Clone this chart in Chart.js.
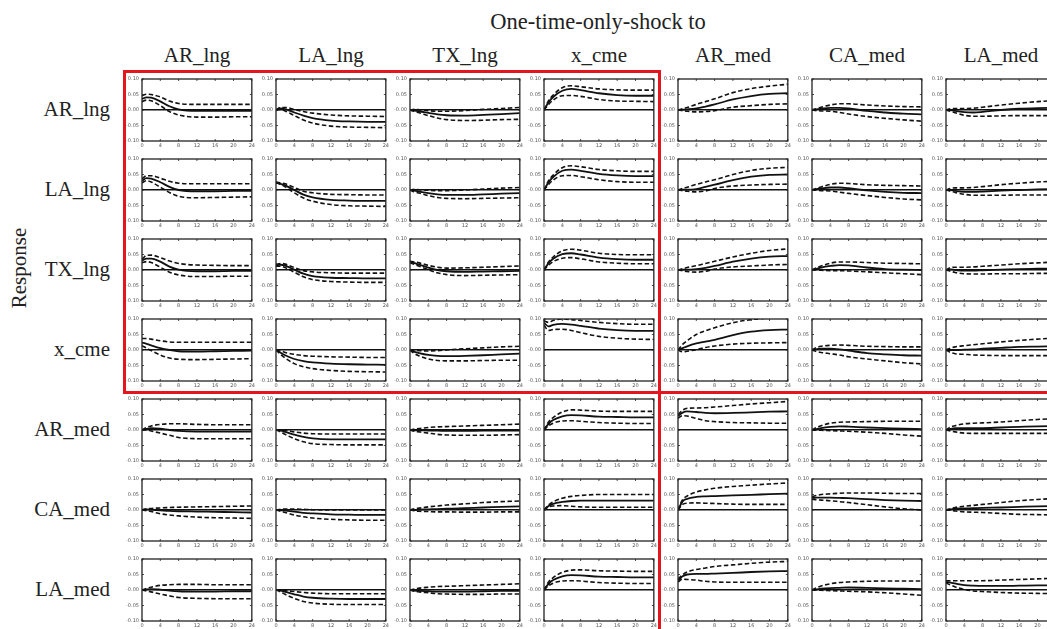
<!DOCTYPE html>
<html>
<head>
<meta charset="utf-8">
<script src="https://cdn.jsdelivr.net/npm/chart.js@4.4.0/dist/chart.umd.min.js"></script>
<style>
html, body { margin: 0; padding: 0; overflow: hidden; background: #fff; }
#page { position: relative; width: 1047px; height: 629px; overflow: hidden; font-family: "Liberation Serif", "Times New Roman", Times, "DejaVu Serif", serif; color: #222; }
.lbl { position: absolute; font-size: 21px; white-space: nowrap; line-height: 1; }
canvas { position: absolute; }
.red { position: absolute; background: #e3161d; }
</style>
</head>
<body>
<div id="page"></div>
<script>
// values are in units of 0.01
const shocks = ["AR_lng", "LA_lng", "TX_lng", "x_cme", "AR_med", "CA_med", "LA_med"];
const responses = ["AR_lng", "LA_lng", "TX_lng", "x_cme", "AR_med", "CA_med", "LA_med"];
const steps = [0, 1, 2, 4, 6, 8, 12, 16, 20, 24];
const xTicks = [0, 4, 8, 12, 16, 20, 24];
const yTicks = [-10, -5, 0, 5, 10];

const arLngMid = [
  [3.6,4.1,4.0,2.8,1.2,0.2,-0.3,-0.3,-0.3,-0.3],
  [0,0.5,0.3,-0.8,-1.8,-2.6,-3.4,-3.7,-3.8,-3.8],
  [0,-0.2,-0.4,-0.9,-1.4,-1.7,-1.8,-1.6,-1.3,-1.0],
  [0,2.5,4.2,6.2,6.8,6.4,5.4,4.8,4.6,4.6],
  [0,0.1,0.2,0.5,1.1,1.8,3.4,4.5,5.2,5.4],
  [0,0.2,0.4,0.7,0.7,0.5,-0.3,-0.8,-1.2,-1.4],
  [0,0.0,-0.3,-0.7,-0.8,-0.6,0.0,0.4,0.6,0.7]
];
const arLngLo = [
  [2.7,3.2,3.0,1.4,-0.5,-1.6,-2.3,-2.3,-2.2,-2.2],
  [0,0.2,-0.3,-1.8,-3.2,-4.2,-5.2,-5.5,-5.6,-5.7],
  [0,-0.5,-0.9,-1.8,-2.6,-3.1,-3.4,-3.3,-3.1,-3.0],
  [0,1.8,3.2,4.6,4.7,4.4,3.4,2.9,2.8,2.7],
  [0,-0.2,-0.4,-0.6,-0.5,-0.2,0.9,1.4,1.8,2.0],
  [0,-0.2,-0.3,-0.4,-0.8,-1.3,-2.1,-2.7,-3.2,-3.6],
  [0,-0.4,-0.9,-1.7,-2.0,-2.0,-1.9,-1.8,-1.8,-1.8]
];
const arLngHi = [
  [4.6,5.1,5.0,4.2,2.9,2.1,1.8,1.8,1.8,1.8],
  [0,0.8,0.8,0.2,-0.5,-1.0,-1.6,-1.9,-2.0,-2.1],
  [0,0.2,0.1,-0.2,-0.4,-0.4,-0.2,0.2,0.5,0.8],
  [0,3.0,4.8,7.2,7.8,7.5,6.8,6.5,6.4,6.4],
  [0,0.4,0.8,1.8,2.7,3.6,5.6,6.9,7.7,8.3],
  [0,0.4,0.9,1.6,2.0,2.0,1.6,1.3,1.1,1.0],
  [0,0.4,0.5,0.5,0.6,0.9,1.6,2.2,2.7,3.0]
];

const laLngMid = [
  [3.0,3.8,3.7,2.5,1.0,0.0,-0.4,-0.4,-0.3,-0.3],
  [2.5,2.0,1.5,0.0,-1.5,-2.4,-3.2,-3.4,-3.5,-3.5],
  [0,-0.2,-0.5,-1.0,-1.4,-1.6,-1.6,-1.4,-1.2,-1.0],
  [0,2.5,4.2,6.2,6.6,6.2,5.2,4.7,4.5,4.5],
  [0,0.1,0.1,0.3,1.0,1.7,3.2,4.3,4.9,5.0],
  [0,0.3,0.5,0.8,0.8,0.6,-0.1,-0.6,-0.9,-1.0],
  [0,0.0,-0.3,-0.6,-0.6,-0.5,-0.2,0.0,0.2,0.3]
];
const laLngLo = [
  [2.3,3.0,2.6,0.9,-0.8,-2.0,-2.5,-2.4,-2.3,-2.2],
  [2.3,1.8,1.0,-0.9,-2.6,-3.6,-4.7,-5.1,-5.2,-5.3],
  [0,-0.6,-1.0,-1.8,-2.4,-2.7,-2.8,-2.7,-2.6,-2.5],
  [0,1.8,3.2,4.6,4.7,4.3,3.3,2.7,2.5,2.5],
  [0,-0.2,-0.4,-0.6,-0.3,0.5,1.3,1.6,1.8,1.9],
  [0,-0.1,-0.2,-0.3,-0.7,-1.1,-1.8,-2.4,-2.9,-3.2],
  [0,-0.4,-0.8,-1.4,-1.7,-1.7,-1.7,-1.6,-1.6,-1.6]
];
const laLngHi = [
  [3.6,4.6,4.6,3.8,2.8,2.2,2.0,2.0,2.0,2.0],
  [2.6,2.3,2.0,0.8,-0.4,-0.9,-1.4,-1.5,-1.6,-1.6],
  [0,0.2,0.1,-0.1,-0.2,-0.2,0.0,0.3,0.6,0.8],
  [0,3.0,4.8,7.2,7.8,7.5,6.6,6.2,6.0,6.0],
  [0,0.5,0.9,1.8,2.6,3.3,5.0,6.3,7.0,7.3],
  [0,0.5,1.0,1.8,2.2,2.1,1.7,1.5,1.4,1.3],
  [0,0.5,0.7,0.7,0.8,1.1,1.7,2.2,2.6,2.8]
];

const txLngMid = [
  [3.0,3.7,3.7,2.7,1.1,0.1,-0.4,-0.4,-0.3,-0.3],
  [1.5,1.7,1.4,0.1,-1.2,-2.0,-2.5,-2.6,-2.7,-2.7],
  [2.6,2.2,1.7,0.8,0.0,-0.4,-0.6,-0.5,-0.4,-0.3],
  [0,2.2,3.6,5.1,5.4,5.0,4.0,3.5,3.3,3.3],
  [0,0.1,0.1,0.3,0.7,1.3,2.7,3.7,4.3,4.5],
  [0,0.4,0.8,1.3,1.6,1.5,0.8,0.3,0.1,0.0],
  [0,0.2,0.0,-0.2,-0.2,-0.1,0.1,0.3,0.4,0.5]
];
const txLngLo = [
  [2.3,2.7,2.4,0.9,-0.7,-1.6,-2.1,-2.1,-2.0,-2.0],
  [1.2,1.2,0.8,-0.7,-2.2,-3.1,-3.7,-3.9,-4.0,-4.0],
  [2.4,1.8,1.2,0.1,-0.9,-1.5,-1.8,-1.7,-1.6,-1.5],
  [0,1.6,2.7,3.8,4.0,3.6,2.6,2.2,2.0,2.0],
  [0,-0.2,-0.5,-0.7,-0.4,0.3,1.0,1.3,1.6,1.8],
  [0,0.0,-0.1,-0.2,-0.2,-0.3,-0.6,-0.9,-1.2,-1.5],
  [0,-0.4,-0.8,-1.2,-1.3,-1.3,-1.2,-1.2,-1.1,-1.1]
];
const txLngHi = [
  [3.5,4.7,4.8,4.0,2.9,2.1,1.6,1.5,1.4,1.4],
  [1.8,2.1,1.9,0.8,-0.2,-0.6,-0.9,-1.0,-1.0,-1.0],
  [2.8,2.6,2.3,1.5,0.9,0.6,0.7,0.9,1.1,1.3],
  [0,2.6,4.2,6.2,6.7,6.4,5.4,5.0,4.9,4.9],
  [0,0.4,0.8,1.4,2.1,2.8,4.2,5.4,6.3,6.8],
  [0,0.7,1.3,2.2,2.6,2.6,2.4,2.2,2.1,2.0],
  [0,0.8,0.9,0.9,1.0,1.2,1.6,2.0,2.3,2.6]
];

const xCmeMid = [
  [2.4,2.0,1.5,0.6,0.0,-0.4,-0.5,-0.4,-0.3,-0.2],
  [0,-0.9,-1.7,-2.9,-3.6,-4.0,-4.4,-4.6,-4.7,-4.8],
  [0,-0.6,-1.0,-1.6,-1.9,-2.0,-1.9,-1.7,-1.4,-1.2],
  [8.8,7.6,8.1,8.4,8.2,7.8,6.9,6.4,6.2,6.2],
  [0,0.6,1.2,2.1,2.7,3.3,4.8,5.9,6.4,6.6],
  [0,0.3,0.4,0.4,0.2,-0.2,-1.0,-1.4,-1.7,-1.8],
  [0,0.0,0.0,0.1,0.2,0.4,0.7,1.0,1.1,1.2]
];
const xCmeLo = [
  [1.4,0.6,-0.2,-1.6,-2.6,-3.0,-3.1,-3.0,-2.9,-2.8],
  [0,-1.4,-2.6,-4.4,-5.4,-6.0,-6.6,-6.9,-7.0,-7.1],
  [0,-1.2,-1.9,-2.9,-3.4,-3.5,-3.5,-3.4,-3.3,-3.3],
  [8.0,6.3,6.6,6.7,6.3,5.6,4.4,3.8,3.5,3.4],
  [0,-0.6,-0.4,0.1,0.8,1.3,1.9,2.2,2.3,2.4],
  [0,-0.5,-0.8,-1.2,-1.6,-2.2,-2.9,-3.5,-4.1,-4.5],
  [0,-0.8,-1.2,-1.4,-1.6,-1.7,-1.8,-1.8,-1.8,-1.8]
];
const xCmeHi = [
  [3.7,3.7,3.5,3.0,2.6,2.5,2.5,2.5,2.5,2.5],
  [0,-0.4,-0.8,-1.4,-1.8,-2.0,-2.2,-2.3,-2.4,-2.4],
  [0,-0.1,-0.2,-0.3,-0.2,0.0,0.4,0.7,1.0,1.2],
  [9.4,8.9,9.5,10.0,9.8,9.5,8.9,8.5,8.3,8.3],
  [0,1.8,3.0,5.0,6.2,7.2,8.8,9.8,10.3,10.5],
  [0,0.8,1.2,1.5,1.6,1.5,1.2,1.1,1.0,1.0],
  [0,0.6,1.0,1.4,1.7,2.0,2.6,3.1,3.5,3.9]
];

const arMedMid = [
  [0,0.4,0.6,0.4,0.0,-0.3,-0.5,-0.5,-0.5,-0.5],
  [0,-0.2,-0.6,-1.5,-2.2,-2.7,-3.0,-3.0,-3.0,-3.0],
  [0,-0.1,-0.1,-0.2,-0.2,-0.3,-0.3,-0.2,-0.2,-0.2],
  [0,2.0,3.2,4.4,4.8,4.7,4.3,4.2,4.1,4.1],
  [4.5,5.6,6.0,5.8,5.5,5.4,5.5,5.7,5.9,6.0],
  [0,0.3,0.6,1.0,1.2,1.1,0.8,0.6,0.4,0.3],
  [0,0.4,0.6,0.6,0.6,0.6,0.8,1.0,1.2,1.3]
];
const arMedLo = [
  [0,0.0,-0.3,-1.0,-1.7,-2.4,-2.8,-2.8,-2.8,-2.8],
  [0,-0.6,-1.4,-2.8,-3.8,-4.4,-4.7,-4.8,-4.8,-4.8],
  [0,-0.4,-0.6,-1.0,-1.4,-1.6,-1.7,-1.7,-1.6,-1.5],
  [0,1.4,2.2,2.9,3.0,2.8,2.4,2.2,2.1,2.1],
  [3.8,4.6,4.5,3.7,3.0,2.7,2.4,2.3,2.2,2.2],
  [0,-0.1,-0.1,-0.2,-0.3,-0.4,-0.7,-1.1,-1.6,-2.0],
  [0,-0.3,-0.6,-1.0,-1.1,-1.1,-1.1,-1.1,-1.1,-1.1]
];
const arMedHi = [
  [0,0.8,1.3,1.8,2.0,2.0,1.8,1.7,1.7,1.7],
  [0,0.0,-0.1,-0.6,-1.0,-1.2,-1.3,-1.3,-1.3,-1.3],
  [0,0.3,0.5,0.8,1.0,1.1,1.3,1.5,1.7,1.9],
  [0,2.6,4.0,5.8,6.5,6.4,6.1,6.0,6.0,6.0],
  [5.0,6.4,7.0,7.1,7.2,7.4,7.9,8.4,8.8,9.2],
  [0,0.8,1.4,2.2,2.5,2.6,2.7,2.8,2.8,2.8],
  [0,1.0,1.4,2.0,2.2,2.3,2.6,3.0,3.4,3.7]
];

const caMedMid = [
  [0,0.2,0.1,-0.1,-0.3,-0.4,-0.5,-0.6,-0.7,-0.8],
  [0,-0.1,-0.2,-0.5,-0.9,-1.1,-1.4,-1.5,-1.6,-1.6],
  [0,0.0,0.1,0.2,0.3,0.4,0.6,0.8,1.0,1.2],
  [0,1.3,2.0,2.6,2.9,3.0,3.0,3.0,3.0,3.0],
  [0,2.8,3.6,4.2,4.4,4.5,4.7,4.9,5.1,5.3],
  [3.9,4.0,4.0,4.0,3.9,3.8,3.5,3.2,3.0,2.9],
  [0,0.2,0.4,0.5,0.6,0.7,0.8,1.0,1.2,1.3]
];
const caMedLo = [
  [0,-0.2,-0.5,-1.2,-1.6,-1.9,-2.3,-2.5,-2.6,-2.7],
  [0,-0.4,-0.8,-1.6,-2.2,-2.6,-3.0,-3.2,-3.3,-3.3],
  [0,-0.3,-0.4,-0.5,-0.6,-0.6,-0.7,-0.7,-0.6,-0.6],
  [0,1.0,1.3,1.4,1.2,1.0,0.9,0.9,0.9,0.9],
  [0,1.8,2.2,2.3,2.2,2.1,1.9,1.8,1.8,1.8],
  [3.5,3.3,3.2,3.0,2.7,2.4,1.7,1.0,0.4,0.0],
  [0,-0.1,-0.3,-0.6,-0.7,-0.8,-1.1,-1.4,-1.5,-1.6]
];
const caMedHi = [
  [0,0.4,0.5,0.7,0.8,0.9,1.0,1.1,1.2,1.3],
  [0,0.2,0.3,0.3,0.2,0.1,0.0,0.0,0.0,0.0],
  [0,0.4,0.6,1.0,1.3,1.6,2.0,2.4,2.7,2.9],
  [0,1.6,2.6,3.8,4.4,4.7,5.0,5.0,5.0,5.0],
  [0,3.3,4.5,5.8,6.5,7.0,7.6,8.0,8.4,8.7],
  [4.3,4.7,5.0,5.2,5.4,5.5,5.5,5.4,5.3,5.3],
  [0,0.4,0.8,1.2,1.5,1.8,2.4,3.0,3.4,3.7]
];

const laMedMid = [
  [0,0.2,0.3,0.1,-0.2,-0.4,-0.5,-0.5,-0.4,-0.4],
  [0,-0.2,-0.6,-1.4,-2.1,-2.5,-2.8,-2.9,-2.9,-2.9],
  [0,-0.2,-0.3,-0.4,-0.5,-0.5,-0.5,-0.4,-0.3,-0.3],
  [0,2.0,3.2,4.4,4.8,4.7,4.3,4.2,4.1,4.1],
  [3.0,4.4,5.0,5.2,5.2,5.3,5.5,5.8,6.0,6.1],
  [0,0.2,0.4,0.6,0.7,0.8,0.7,0.5,0.4,0.3],
  [2.6,2.4,2.1,1.6,1.4,1.3,1.3,1.4,1.5,1.5]
];
const laMedLo = [
  [0,-0.3,-0.6,-1.3,-1.9,-2.4,-2.7,-2.8,-2.8,-2.8],
  [0,-0.6,-1.4,-2.7,-3.7,-4.2,-4.6,-4.7,-4.7,-4.7],
  [0,-0.4,-0.6,-0.9,-1.2,-1.3,-1.4,-1.4,-1.3,-1.3],
  [0,1.4,2.2,2.9,3.0,2.9,2.4,2.2,2.1,2.1],
  [2.6,3.5,3.4,3.2,2.8,2.6,2.5,2.5,2.5,2.5],
  [0,-0.1,-0.1,-0.2,-0.3,-0.4,-0.6,-0.9,-1.3,-1.7],
  [2.3,1.6,1.0,0.2,-0.3,-0.5,-0.8,-1.0,-1.1,-1.2]
];
const laMedHi = [
  [0,0.5,0.9,1.5,1.7,1.8,1.8,1.7,1.7,1.7],
  [0,0.0,-0.2,-0.5,-0.8,-1.0,-1.2,-1.2,-1.2,-1.2],
  [0,0.3,0.6,0.9,1.1,1.2,1.4,1.6,1.8,2.0],
  [0,2.6,4.0,5.7,6.4,6.5,6.2,6.1,6.0,6.0],
  [3.5,4.9,5.8,6.6,7.1,7.6,8.1,8.6,9.0,9.2],
  [0,0.7,1.3,2.0,2.4,2.6,2.8,2.9,2.9,2.9],
  [3.0,3.0,3.0,3.0,3.0,3.0,3.2,3.4,3.6,3.8]
];

const rowMid = [arLngMid, laLngMid, txLngMid, xCmeMid, arMedMid, caMedMid, laMedMid];
const rowLo = [arLngLo, laLngLo, txLngLo, xCmeLo, arMedLo, caMedLo, laMedLo];
const rowHi = [arLngHi, laLngHi, txLngHi, xCmeHi, arMedHi, caMedHi, laMedHi];

const page = document.getElementById("page");

// plot box geometry
const boxLeft = 142, colStep = 134, boxTop = 77, rowStep = 80;
const boxW = 110, boxH = 64;
const padL = 24, padR = 5, padT = 4, padB = 12;

function addLabel(text, x, y, align) {
  const el = document.createElement("div");
  el.className = "lbl";
  el.textContent = text;
  el.style.left = x + "px";
  el.style.top = y + "px";
  if (align === "right") el.style.transform = "translate(-100%, -50%)";
  else el.style.transform = "translate(-50%, -50%)";
  page.appendChild(el);
  return el;
}

const title = addLabel("One-time-only-shock to", 598, 22);
title.style.fontSize = "22.5px";
shocks.forEach((s, c) => addLabel(s, boxLeft + c * colStep + boxW / 2, 55));
responses.forEach((s, r) => addLabel(s, 110, boxTop + r * rowStep + boxH / 2, "right"));
const resp = addLabel("Response", 19, 268);
resp.style.transform = "translate(-50%, -50%) rotate(-90deg)";

const framePlugin = {
  id: "frame",
  afterDraw(chart) {
    const { ctx, chartArea: a, scales } = chart;
    ctx.save();
    ctx.strokeStyle = "#222";
    ctx.lineWidth = 1.3;
    ctx.strokeRect(a.left, a.top, a.right - a.left, a.bottom - a.top);
    ctx.lineWidth = 0.8;
    ctx.beginPath();
    xTicks.forEach(t => {
      const px = scales.x.getPixelForValue(t);
      ctx.moveTo(px, a.top); ctx.lineTo(px, a.top + 2);
      ctx.moveTo(px, a.bottom); ctx.lineTo(px, a.bottom - 2);
    });
    yTicks.forEach(t => {
      const py = scales.y.getPixelForValue(t);
      ctx.moveTo(a.left, py); ctx.lineTo(a.left + 2, py);
      ctx.moveTo(a.right, py); ctx.lineTo(a.right - 2, py);
    });
    ctx.stroke();
    ctx.restore();
  }
};

function series(values, dashed) {
  return {
    data: steps.map((s, i) => ({ x: s, y: values[i] })),
    borderColor: "#111",
    borderWidth: dashed ? 1.6 : 1.8,
    borderDash: dashed ? [4.5, 2.5] : [],
    pointRadius: 0,
    cubicInterpolationMode: "monotone",
    fill: false
  };
}

const tickFont = { family: "DejaVu Sans", size: 5 };

for (let r = 0; r < responses.length; r++) {
  for (let c = 0; c < shocks.length; c++) {
    const canvas = document.createElement("canvas");
    const w = padL + boxW + padR, h = padT + boxH + padB;
    canvas.width = w;
    canvas.height = h;
    canvas.style.left = (boxLeft + c * colStep - padL) + "px";
    canvas.style.top = (boxTop + r * rowStep - padT) + "px";
    page.appendChild(canvas);

    new Chart(canvas.getContext("2d"), {
      type: "line",
      data: {
        datasets: [
          series(rowHi[r][c], true),
          series(rowLo[r][c], true),
          series(rowMid[r][c], false)
        ]
      },
      options: {
        responsive: false,
        animation: false,
        events: [],
        layout: { padding: { left: 0, right: padR, top: padT, bottom: 0 }, autoPadding: false },
        plugins: { legend: { display: false }, tooltip: { enabled: false } },
        scales: {
          x: {
            type: "linear",
            min: 0, max: 24,
            afterFit: s => { s.height = padB; },
            border: { display: false },
            grid: { display: false, drawTicks: false },
            ticks: { stepSize: 4, autoSkip: false, maxRotation: 0, padding: 2, font: tickFont, color: "#555",
              callback: v => String(v) }
          },
          y: {
            min: -10, max: 10,
            afterFit: s => { s.width = padL; },
            border: { display: false },
            grid: {
              drawTicks: false,
              lineWidth: 1.4,
              color: g => (g.tick && g.tick.value === 0) ? "#111" : "rgba(0,0,0,0)"
            },
            ticks: { stepSize: 5, padding: 3, font: tickFont, color: "#555",
              callback: v => v === 0 ? "-0.00" : (v / 100).toFixed(2) }
          }
        }
      },
      plugins: [framePlugin]
    });
  }
}

// red outline around the lng / x_cme block
[
  [123, 70, 538, 3],
  [123, 70, 3, 324],
  [658, 70, 3, 559],
  [123, 391, 924, 3]
].forEach(([x, y, w, h]) => {
  const d = document.createElement("div");
  d.className = "red";
  d.style.left = x + "px";
  d.style.top = y + "px";
  d.style.width = w + "px";
  d.style.height = h + "px";
  page.appendChild(d);
});
</script>
</body>
</html>
